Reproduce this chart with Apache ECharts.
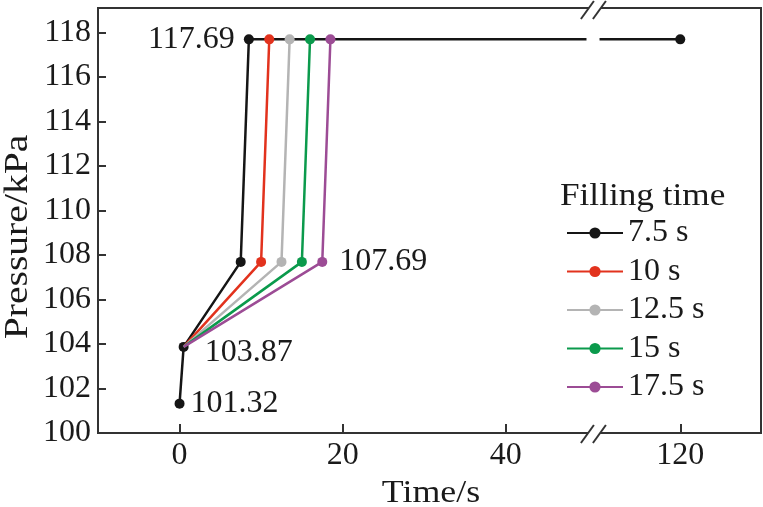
<!DOCTYPE html>
<html lang="en">
<head>
    <meta charset="utf-8">
    <title>Pressure vs time</title>
    <script src="https://cdn.jsdelivr.net/npm/echarts@6.0.0/dist/echarts.min.js"></script>
    <style>
        html, body { margin: 0; padding: 0; background: #fff; }
        #main { width: 763px; height: 507px; }
    </style>
</head>
<body>
<div id="main"></div>

<script type="text/javascript">
    // data
    var fillTimes = ['7.5 s', '10 s', '12.5 s', '15 s', '17.5 s'];
    var colors = ['#151515', '#e2321d', '#b4b4b4', '#0b9a4c', '#9c4c95'];
    var startTime = [0, 0.5];                 // s
    var startPressure = [101.32, 103.87];     // kPa
    var rampTimes = [7.5, 10, 12.5, 15, 17.5];  // end of filling, at 107.69 kPa
    var peakTimes = [8.5, 11, 13.5, 16, 18.5];  // at 117.69 kPa
    var rampPressure = 107.69;
    var peakPressure = 117.69;
    var holdEnd = 120;

    var xTicks = [0, 20, 40, 120];
    var yTicks = [100, 102, 104, 106, 108, 110, 112, 114, 116, 118];

    // broken x axis: values past the break are shifted left
    var BREAK_FROM = 50, BREAK_TO = 110, SHIFT = 58.6;
    var BREAK_AT = 50.75;
    function tx(t) { return t >= BREAK_TO ? t - SHIFT : t; }
    function untx(v) { return v > BREAK_FROM ? v + SHIFT : v; }

    var FONT = 'Liberation Serif';
    var FS = 32;
    var labelStyle = { fontFamily: FONT, fontSize: FS, color: '#1a1a1a' };

    var series = [];
    fillTimes.forEach(function (name, i) {
        var data = [];
        if (i === 0) {
            data.push({ value: [tx(startTime[0]), startPressure[0]],
                label: { show: true, position: 'right', distance: 6, formatter: String(startPressure[0]) } });
            data.push({ value: [tx(startTime[1]), startPressure[1]],
                label: { show: true, position: 'right', distance: 16, offset: [0, 6], formatter: String(startPressure[1]) } });
        } else {
            data.push({ value: [tx(startTime[1]), startPressure[1]], symbol: 'none' });
        }
        var ramp = { value: [tx(rampTimes[i]), rampPressure] };
        if (i === fillTimes.length - 1) {
            ramp.label = { show: true, position: 'right', distance: 12, formatter: rampPressure.toFixed(2) };
        }
        data.push(ramp);
        var peak = { value: [tx(peakTimes[i]), peakPressure] };
        if (i === 0) {
            peak.label = { show: true, position: 'left', distance: 9, formatter: peakPressure.toFixed(2) };
        }
        data.push(peak);
        if (i === 0) {
            data.push({ value: [tx(holdEnd), peakPressure] });
        }
        series.push({
            name: name,
            type: 'line',
            data: data,
            symbol: 'circle',
            symbolSize: 10,
            itemStyle: { color: colors[i] },
            lineStyle: { color: colors[i], width: 2.5 },
            label: labelStyle,
            animation: false,
            z: i === 0 ? 2 : 3
        });
    });

    var myChart = echarts.init(document.getElementById('main'));

    myChart.setOption({
        animation: false,
        grid: {
            left: 98, right: 2, top: 8, bottom: 74,
            show: true, borderColor: '#333', borderWidth: 2
        },
        legend: {
            data: fillTimes,
            orient: 'vertical',
            left: 566, top: 217,
            padding: 0,
            itemWidth: 56, itemHeight: 14, itemGap: 6.5,
            textStyle: { fontFamily: FONT, fontSize: FS, lineHeight: 30, color: '#1a1a1a' }
        },
        xAxis: {
            type: 'value',
            min: -10, max: 71.3,
            axisLine: { onZero: false, lineStyle: { color: '#333', width: 2 } },
            axisTick: { inside: true, length: 9, lineStyle: { color: '#333', width: 2 },
                customValues: xTicks.map(tx) },
            axisLabel: { fontFamily: FONT, fontSize: FS, color: '#1a1a1a', margin: 7,
                customValues: xTicks.map(tx),
                formatter: function (v) { return String(Math.round(untx(v))); } },
            splitLine: { show: false }
        },
        yAxis: {
            type: 'value',
            min: 100, max: 119.1,
            axisLine: { show: true, onZero: false, lineStyle: { color: '#333', width: 2 } },
            axisTick: { show: true, inside: true, length: 8, lineStyle: { color: '#333', width: 2 },
                customValues: yTicks },
            axisLabel: { fontFamily: FONT, fontSize: FS, color: '#1a1a1a', margin: 7,
                customValues: yTicks },
            splitLine: { show: false }
        },
        series: series
    });

    // break marks, axis names, legend title
    function px(x, y) { return myChart.convertToPixel({ gridIndex: 0 }, [x, y]); }
    var breakLow = px(BREAK_AT, 100);
    var breakHigh = px(BREAK_AT, 119.1);
    var gapL = px(49.9, peakPressure);
    var gapR = px(51.5, peakPressure);

    function breakMark(cx, cy) {
        var h = 9, w = 6.5, d = 6;
        return [{
            type: 'polygon', z: 100,
            shape: { points: [[cx - d - w, cy + h], [cx - d + w, cy - h], [cx + d + w, cy - h], [cx + d - w, cy + h]] },
            style: { fill: '#fff' }
        }, {
            type: 'line', z: 101,
            shape: { x1: cx - d - w, y1: cy + h, x2: cx - d + w, y2: cy - h },
            style: { stroke: '#333', lineWidth: 2 }
        }, {
            type: 'line', z: 101,
            shape: { x1: cx + d - w, y1: cy + h, x2: cx + d + w, y2: cy - h },
            style: { stroke: '#333', lineWidth: 2 }
        }];
    }

    var graphics = [].concat(breakMark(breakLow[0], breakLow[1] + 1), breakMark(breakHigh[0], breakHigh[1] + 2));
    graphics.push({
        type: 'rect', z: 100,
        shape: { x: gapL[0], y: gapL[1] - 3, width: gapR[0] - gapL[0], height: 6 },
        style: { fill: '#fff' }
    });
    graphics.push({
        type: 'text', z: 100, x: 18, y: 237, rotation: Math.PI / 2, scaleX: 1.2,
        style: { text: 'Pressure/kPa', fontFamily: FONT, fontSize: 33, fill: '#1a1a1a',
            align: 'center', verticalAlign: 'middle' }
    });
    graphics.push({
        type: 'text', z: 100, x: 431, y: 494, scaleX: 1.12,
        style: { text: 'Time/s', fontFamily: FONT, fontSize: 32, fill: '#1a1a1a',
            align: 'center', verticalAlign: 'middle' }
    });
    graphics.push({
        type: 'text', z: 100, x: 560, y: 197, scaleX: 1.1,
        style: { text: 'Filling time', fontFamily: FONT, fontSize: 32, fill: '#1a1a1a',
            align: 'left', verticalAlign: 'middle' }
    });
    myChart.setOption({ graphic: graphics });
</script>
</body>
</html>
